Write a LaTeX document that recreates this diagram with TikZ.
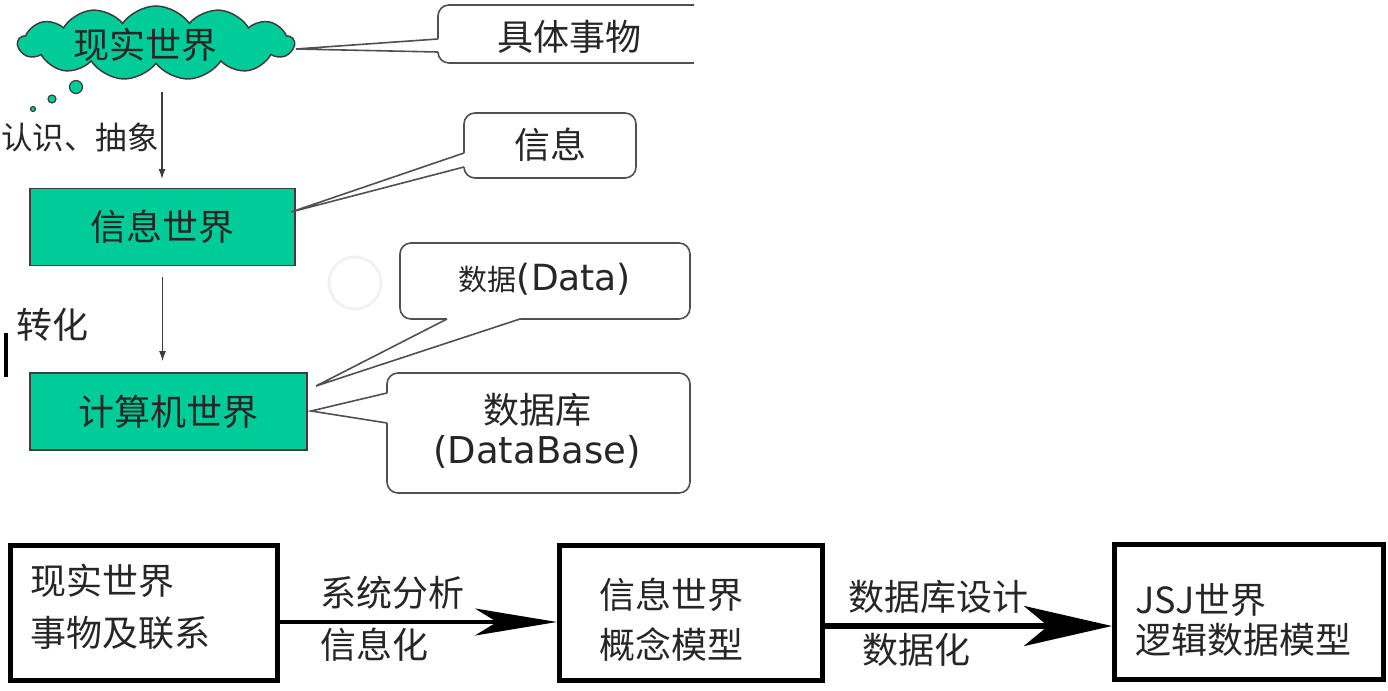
\documentclass[tikz,border=0pt]{standalone}
\usepackage{fontspec}
\setmainfont{Noto Sans CJK SC}
\newfontfamily\latfont{DejaVu Sans}
\usetikzlibrary{shapes.symbols,arrows.meta}
\definecolor{wgreen}{RGB}{0,204,153}
\definecolor{edgegray}{RGB}{60,60,60}
\definecolor{callgray}{RGB}{80,80,80}
\begin{document}
\begin{tikzpicture}[x=1pt,y=-1pt,
  txt/.style={inner sep=0pt, font=\fontsize{36}{40}\selectfont, text=black!85},
  btxt/.style={inner sep=0pt, anchor=west, font=\fontsize{36}{40}\selectfont, text=black!85},
  world/.style={draw=edgegray, line width=1.5pt, fill=wgreen, inner sep=0pt, font=\fontsize{36}{40}\selectfont, text=black!85},
  callbox/.style={draw=callgray, line width=1.6pt, rounded corners=11pt, fill=white, inner sep=0pt},
  tailline/.style={draw=callgray, line width=1.6pt, line join=miter},
  flowarr/.style={draw=edgegray, line width=1.3pt, -{Latex[length=10pt,width=7pt]}},
  modelbox/.style={draw=black, line width=5pt, inner sep=0pt},
]
\useasboundingbox (0,0) rectangle (1388,690);

% cloud and thought bubbles
\node[world, cloud, cloud puffs=13, cloud puff arc=110, aspect=3.7,
      minimum width=276pt, minimum height=74pt] (cloud) at (156,43) {};
\node[txt] (cloudtxt) at (145,45) {现实世界};
\node[world, circle, minimum size=13pt, line width=1.2pt] (bub1) at (76,87) {};
\node[world, circle, minimum size=8pt, line width=1.2pt] (bub2) at (52,99) {};
\node[world, circle, minimum size=5pt, line width=1.2pt] (bub3) at (33,109) {};

% world boxes
\node[world, minimum width=265pt, minimum height=77pt] (info) at (162.5,227) {信息世界};
\node[world, minimum width=277pt, minimum height=77pt] (comp) at (168.5,411.5) {计算机世界};

\coordinate (a1s) at (162,92);
\draw[flowarr] (a1s) -- (a1s |- 0,179);
\node[txt, anchor=east, font=\fontsize{31.5}{36}\selectfont] (l1) at (159,137) {认识、抽象};
\draw[flowarr] (info.south |- 0,277) -- (info.south |- 0,361);
\node[txt, anchor=west] (l2) at (16,325) {转化};
\fill[black] (4,333) rectangle (8,377);

% faint circle artefact
\draw[black!5, line width=3pt] (355,283) circle (26);

% callout 1 (cut off at the right)
\begin{scope}
\clip (0,0) rectangle (694,80);
\node[callbox, minimum width=282pt, minimum height=58pt] (c1) at (579,34) {};
\end{scope}
\node[txt] (c1t) at (569,37) {具体事物};
\coordinate (c1a) at (438,39); \coordinate (c1b) at (438,52); \coordinate (c1p) at (296,49);
\fill[white] (c1a) -- (c1p) -- (c1b) -- (442,52) -- (442,39) -- cycle;
\draw[tailline] (c1a) -- (c1p) -- (c1b);

% callout 2
\node[callbox, minimum width=172pt, minimum height=65pt] (c2) at (550,145.5) {};
\node[txt] (c2t) at (550,145) {信息};
\coordinate (c2a) at (464,153); \coordinate (c2b) at (464,167); \coordinate (c2p) at (291,212);
\fill[white] (c2a) -- (c2p) -- (c2b) -- (468,167) -- (468,153) -- cycle;
\draw[tailline] (c2a) -- (c2p) -- (c2b);

% callout 3
\node[callbox, minimum width=290pt, minimum height=76pt] (c3) at (545,281) {};
\node[txt] (c3t) at (545,279) {{\fontsize{29}{34}\selectfont 数据}{\latfont\fontsize{36}{40}\selectfont(Data)}};
\coordinate (c3a) at (447,319); \coordinate (c3b) at (520,319); \coordinate (c3p) at (316,386);
\fill[white] (c3a) -- (c3p) -- (c3b) -- (520,315) -- (447,315) -- cycle;
\draw[tailline] (c3a) -- (c3p) -- (c3b);

% callout 4
\node[callbox, minimum width=303pt, minimum height=120pt] (c4) at (538.5,433) {};
\node[txt] (c4t) at (537,410) {数据库};
\node[txt] (c4u) at (537,452) {\latfont\fontsize{37}{40}\selectfont(DataBase)};
\coordinate (c4a) at (387,393); \coordinate (c4b) at (387,423); \coordinate (c4p) at (311,411);
\fill[white] (c4a) -- (c4p) -- (c4b) -- (391,423) -- (391,393) -- cycle;
\draw[tailline] (c4a) -- (c4p) -- (c4b);

% bottom row
\node[modelbox, minimum width=267pt, minimum height=135pt] (m1) at (144,613) {};
\node[modelbox, minimum width=263pt, minimum height=135pt] (m2) at (691,613) {};
\node[modelbox, minimum width=269pt, minimum height=135pt] (m3) at (1249,612) {};

\node[btxt] (m1a) at (30,581) {现实世界};
\node[btxt] (m1b) at (30,633) {事物及联系};
\node[btxt] (m2a) at (599,595) {信息世界};
\node[btxt] (m2b) at (599,645) {概念模型};
\node[btxt] (m3a) at (1135,600) {JSJ世界};
\node[btxt] (m3b) at (1135,640) {逻辑数据模型};

\draw[line width=4pt, -{Stealth[length=82pt, width=27pt, inset=22pt]}] (m1.east |- 0,622) -- (m2.west |- 0,622);
\draw[line width=6pt, -{Stealth[length=88pt, width=40pt, inset=24pt]}] (m2.east |- 0,626) -- (m3.west |- 0,626);
\node[btxt] (r1a) at (320,593) {系统分析};
\node[btxt] (r1b) at (320,645) {信息化};
\node[btxt] (r2a) at (848,597) {数据库设计};
\node[btxt] (r2b) at (862,650) {数据化};
\end{tikzpicture}
\end{document}
